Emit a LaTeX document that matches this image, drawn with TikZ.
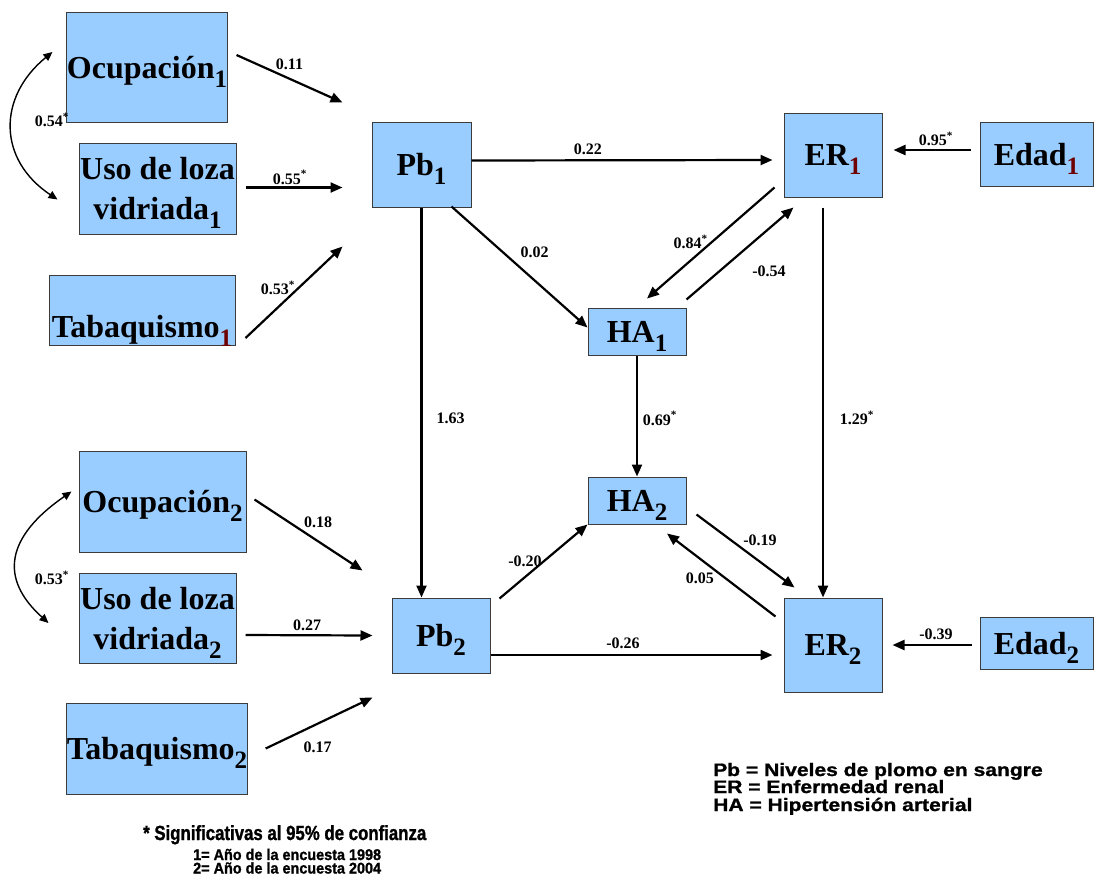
\documentclass[tikz,border=0pt]{standalone}
\usepackage{fontspec}
\setmainfont{Liberation Serif}
\newfontfamily\notefont{Liberation Sans}[FakeStretch=0.82, FakeBold=1.2]
\newfontfamily\yearfont{Liberation Sans}[FakeStretch=0.93, FakeBold=1.2]
\newfontfamily\keyfont{Liberation Sans}[FakeStretch=1.17, FakeBold=1.2]
\usetikzlibrary{arrows.meta}
\definecolor{boxblue}{RGB}{153, 204, 255}
\definecolor{boxedge}{RGB}{60, 60, 60}
\definecolor{subred}{RGB}{110, 0, 0}
\newcommand{\idx}[2][black]{\raisebox{-9pt}{\fontsize{25}{25}\selectfont\textcolor{#1}{#2}}}
\tikzset{
  varbox/.style={
    draw=boxedge,
    line width=1pt,
    fill=boxblue,
    align=center,
    inner sep=0pt,
    text depth=0pt,
    font=\fontsize{32}{40}\selectfont\bfseries
  },
  patharrow/.style={
    -{Triangle[length=12pt,width=10pt]},
    line width=2.2pt
  },
  corrarrow/.style={
    {Triangle[length=9pt,width=8pt]}-{Triangle[length=9pt,width=8pt]},
    line width=1.4pt
  },
  coef/.style={
    font=\fontsize{16}{16}\selectfont\bfseries,
    inner sep=0pt
  },
  notetext/.style={
    inner sep=0pt,
    anchor=base west
  },
  keytext/.style={
    font=\keyfont\bfseries\fontsize{18}{18}\selectfont,
    inner sep=0pt,
    anchor=base west
  }
}

\begin{document}
\begin{tikzpicture}[x=1pt, y=-1pt]
  \path[fill=white, use as bounding box] (0,0) rectangle (1094,892);

  % year 1998
  \node[varbox, minimum width=158pt, minimum height=110pt] (ocup1) at (147,67) {Ocupación\idx{1}};
  \node[varbox, minimum width=157pt, minimum height=91pt] (uso1) at (157.5,188.5) {Uso de loza\\vidriada\idx{1}};
  \node[varbox, minimum width=186pt, minimum height=70pt, text height=61pt, text depth=7pt] (tab1) at (142,310) {Tabaquismo\idx[subred]{1}};
  \node[varbox, minimum width=99pt, minimum height=85pt] (pb1) at (421.5,164.5) {Pb\idx{1}};
  \node[varbox, minimum width=98pt, minimum height=47pt] (ha1) at (637,331.5) {HA\idx{1}};
  \node[varbox, minimum width=98pt, minimum height=84pt] (er1) at (833,155) {ER\idx[subred]{1}};
  \node[varbox, minimum width=113pt, minimum height=64pt] (edad1) at (1036.5,154) {Edad\idx[subred]{1}};

  % year 2004
  \node[varbox, minimum width=167pt, minimum height=101pt] (ocup2) at (162.5,501.5) {Ocupación\idx{2}};
  \node[varbox, minimum width=157pt, minimum height=90pt] (uso2) at (157.5,618) {Uso de loza\\vidriada\idx{2}};
  \node[varbox, minimum width=178pt, minimum height=91pt] (tab2) at (157,748.5) {Tabaquismo\idx{2}};
  \node[varbox, minimum width=98pt, minimum height=47pt] (ha2) at (637,500.5) {HA\idx{2}};
  \node[varbox, minimum width=98pt, minimum height=75pt] (pb2) at (441,635.5) {Pb\idx{2}};
  \node[varbox, minimum width=98pt, minimum height=94pt] (er2) at (833,645) {ER\idx{2}};
  \node[varbox, minimum width=113pt, minimum height=52pt] (edad2) at (1036.5,643) {Edad\idx{2}};

  % free ends towards Pb
  \coordinate (o1tip) at ([shift={(-29,-62)}]pb1.west);
  \coordinate (u1tip) at ([shift={(-29,23)}]pb1.west);
  \coordinate (t1tip) at ([shift={(-29,82)}]pb1.west);
  \coordinate (o2tip) at ([shift={(-29,-65)}]pb2.west);
  \coordinate (t2tip) at ([shift={(-19,62)}]pb2.west);

  \draw[patharrow] ([shift={(9,-12)}]ocup1.east) -- (o1tip) node[coef, pos=.5, shift={(0,-14)}] {0.11};
  \draw[patharrow] ([shift={(9,-1)}]uso1.east) -- (u1tip) node[coef, pos=.5, shift={(-4,-10)}] {0.55\textsuperscript{*}};
  \draw[patharrow] ([shift={(10,28)}]tab1.east) -- (t1tip) node[coef, pos=.5, shift={(-16,-4)}] {0.53\textsuperscript{*}};
  \draw[corrarrow] ([shift={(-14,-15)}]ocup1.west) .. controls +(-55,45) and +(-60,-40) .. ([shift={(-21,11)}]uso1.west)
    node[coef, pos=.5, shift={(40,-8)}] {0.54\textsuperscript{*}};

  \draw[patharrow] ([shift={(0,-4)}]pb1.east) -- ([shift={(-11,5)}]er1.west) node[coef, pos=.387, shift={(0,-11.5)}] {0.22};
  \draw[patharrow] ([shift={(30,-1)}]pb1.south) -- ([shift={(0,-4)}]ha1.west) node[coef, pos=.5, shift={(15,-15)}] {0.02};
  \draw[patharrow] ([shift={(-9,-10)}]er1.south west) -- ([shift={(10,-9)}]ha1.north) node[coef, pos=.5, shift={(-20,-1)}] {0.84\textsuperscript{*}};
  \draw[patharrow] ([shift={(0,-8)}]ha1.north east) -- ([shift={(10,10)}]er1.south west) node[coef, pos=.5, shift={(29,17.5)}] {-0.54};
  \draw[patharrow] ([shift={(-9,-4)}]edad1.west) -- ([shift={(11,-5)}]er1.east) node[coef, pos=.5, shift={(4,-11)}] {0.95\textsuperscript{*}};

  \draw[patharrow] (pb1.south) -- (pb1.south |- pb2.north) node[coef, pos=.54, shift={(29,0)}] {1.63};
  \draw[patharrow] (ha1.south) -- (ha2.north) node[coef, pos=.52, shift={(23,0)}] {0.69\textsuperscript{*}};
  \draw[patharrow] ([shift={(-10,10)}]er1.south) -- ([shift={(-10,0)}]er2.north) node[coef, pos=.54, shift={(34,0)}] {1.29\textsuperscript{*}};

  \draw[patharrow] ([shift={(8,-2)}]ocup2.east) -- (o2tip) node[coef, pos=.5, shift={(9.5,-13)}] {0.18};
  \draw[patharrow] ([shift={(9,17)}]uso2.east) -- ([shift={(-19,0)}]pb2.west) node[coef, pos=.5, shift={(-2,-10)}] {0.27};
  \draw[patharrow] ([shift={(18,0)}]tab2.east) -- (t2tip) node[coef, pos=.5, shift={(-1.5,24)}] {0.17};
  \draw[corrarrow] ([shift={(-7,-10)}]ocup2.west) .. controls +(-65,45) and +(-50,-45) .. ([shift={(-30,5)}]uso2.west)
    node[coef, pos=.5, shift={(35,21)}] {0.53\textsuperscript{*}};

  \draw[patharrow] ([shift={(9,1)}]pb2.north east) -- (ha2.south west) node[coef, pos=.5, shift={(-18.5,0)}] {-0.20};
  \draw[patharrow] ([shift={(10,-10)}]ha2.south east) -- ([shift={(11,-10)}]er2.north west) node[coef, pos=.5, shift={(14.5,-11)}] {-0.19};
  \draw[patharrow] ([shift={(-8,19)}]er2.north west) -- ([shift={(30,9)}]ha2.south) node[coef, pos=.5, shift={(-21.5,3)}] {0.05};
  \draw[patharrow] ([shift={(0,19.5)}]pb2.east) -- ([shift={(-11,10)}]er2.west) node[coef, pos=.47, shift={(0,-12)}] {-0.26};
  \draw[patharrow] ([shift={(-8,2)}]edad2.west) -- ([shift={(10,0)}]er2.east) node[coef, pos=.5, shift={(4,-11)}] {-0.39};

  % notes
  \node[notetext, font=\notefont\bfseries\fontsize{20.5}{20.5}\selectfont] (signif) at (143,840) {* Significativas al 95\% de confianza};
  \node[notetext, font=\yearfont\bfseries\fontsize{15.5}{15.5}\selectfont] (year1) at (193,860) {1= Año de la encuesta 1998};
  \node[notetext, font=\yearfont\bfseries\fontsize{15.5}{15.5}\selectfont] (year2) at (193,873.5) {2= Año de la encuesta 2004};
  \node[keytext] (keypb) at (713,776) {Pb = Niveles de plomo en sangre};
  \node[keytext] (keyer) at (713,793) {ER = Enfermedad renal};
  \node[keytext] (keyha) at (713,811) {HA = Hipertensión arterial};
\end{tikzpicture}
\end{document}
